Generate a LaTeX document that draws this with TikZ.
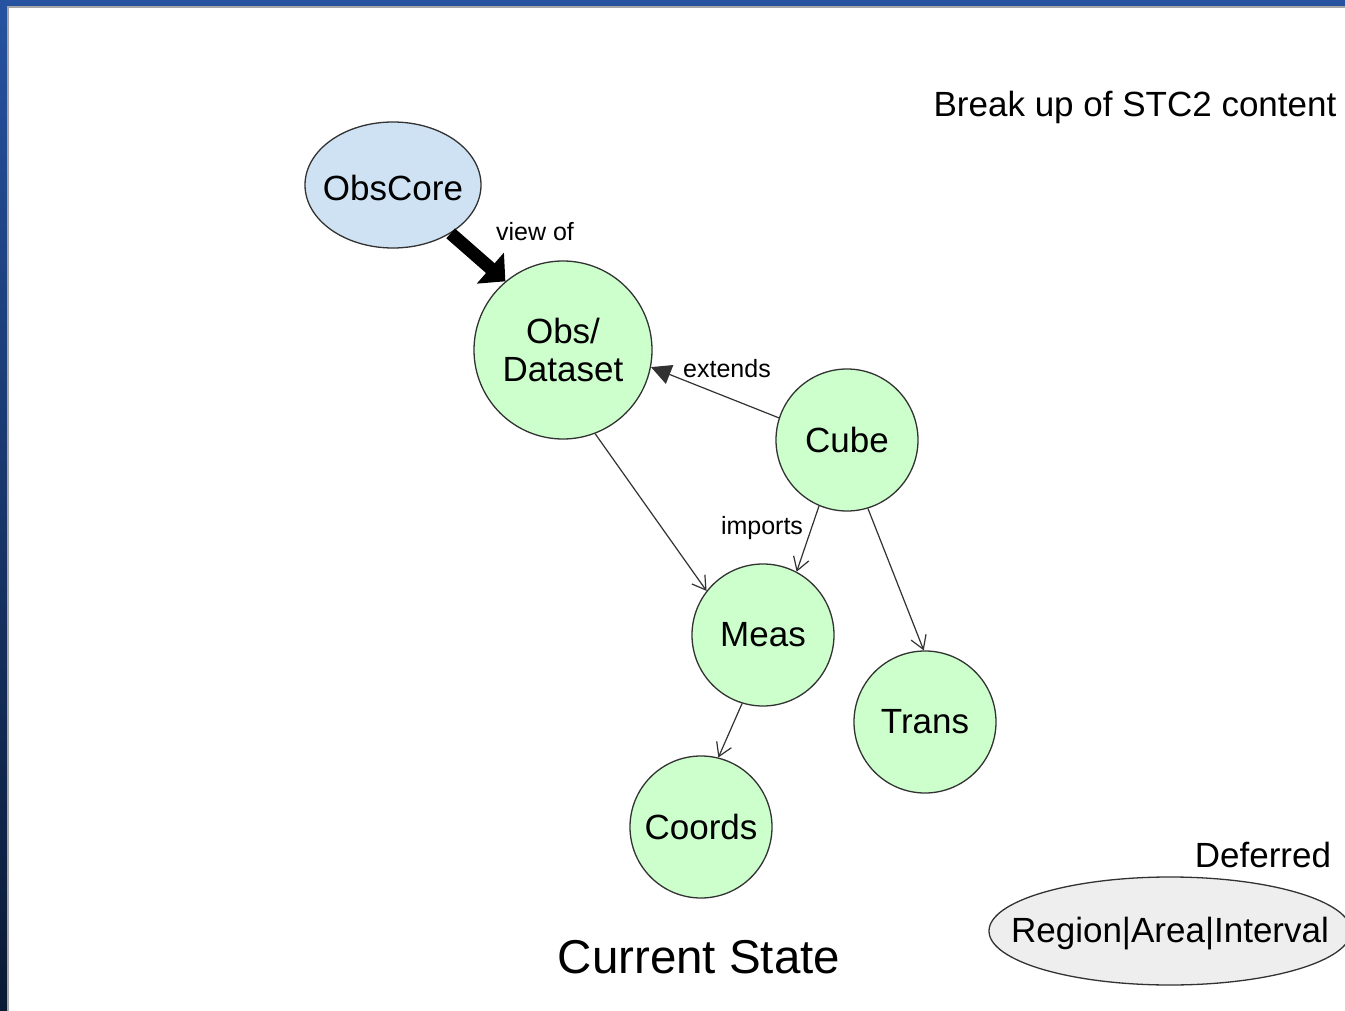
\documentclass[tikz,border=0pt]{standalone}
\usepackage{fontspec}
\setmainfont{Liberation Sans}
\usetikzlibrary{arrows.meta,shapes.geometric}
\definecolor{nodegreen}{RGB}{204,255,204}
\definecolor{nodeblue}{RGB}{207,226,243}
\definecolor{nodegray}{RGB}{238,238,238}
\definecolor{frametop}{RGB}{38,82,160}
\definecolor{framebot}{RGB}{10,26,52}
\definecolor{edgegray}{RGB}{50,50,50}
\tikzset{
  big/.style={font=\fontsize{35}{40}\selectfont},
  lab/.style={font=\fontsize{25}{28}\selectfont, inner sep=0pt},
  circ/.style={circle, draw=edgegray, line width=1.3pt, fill=nodegreen, minimum size=142pt, inner sep=0pt, align=center, big},
  ell/.style={ellipse, draw=edgegray, line width=1.3pt, inner sep=0pt, label={[big, inner sep=0pt, yshift=-3pt]center:#1}},
  thin/.style={draw=edgegray, line width=1.2pt, -{Straight Barb[length=13pt,width=16pt,line width=1.2pt]}},
  fat/.style={draw=black, line width=13pt, -{Triangle[length=20pt,width=40pt]}},
  ext/.style={draw=edgegray, line width=1.2pt, -{Triangle[length=20pt,width=20pt]}},
}
\begin{document}
\begin{tikzpicture}[x=1pt,y=-1pt]
\useasboundingbox (0,0) rectangle (1345,1011);
\fill[white] (0,0) rectangle (1345,1011);
\clip (0,0) rectangle (1345,1011);
% frame
\fill[frametop] (0,0) rectangle (1345,6);
\fill[gray!70] (7,6) rectangle (1345,8);
\shade[top color=frametop, bottom color=framebot] (0,0) rectangle (7,1011);
\fill[gray!70] (7,6) rectangle (9,1011);
% nodes
\node[ell=ObsCore, fill=nodeblue, minimum width=176pt, minimum height=126pt] (obscore) at (393,185) {};
\node[circ, minimum size=178pt] (obs) at (563,350) {Obs/\\[-2pt]Dataset};
\node[circ] (cube) at (847,440) {Cube};
\node[circ] (meas) at (763,635) {Meas};
\node[circ] (trans) at (925,722) {Trans};
\node[circ] (coords) at (701,827) {Coords};
\node[ell=Region|Area|Interval, fill=nodegray, minimum width=362pt, minimum height=108pt] (region) at (1170,931) {};
% texts
\node[big, inner sep=0pt] (title) at (1135,107) {Break up of STC2 content};
\node[big, inner sep=0pt] (deferred) at (1263,855) {Deferred};
\node[font=\fontsize{47.5}{52}\selectfont, inner sep=0pt] (current) at (699,957) {Current State};
% edges
\draw[fat] (obscore.-40) -- (obs.130);
\node[lab] (viewof) at (535,232) {view of};
\draw[ext] (cube.162) -- (obs.-11);
\node[lab] (extends) at (727,369) {extends};
\draw[thin] (obs.-69) -- (meas.142);
\draw[thin] (cube.-113) -- (meas.62);
\node[lab] (imports) at (762,528) {imports};
\draw[thin] (cube.-73) -- (trans.91);
\draw[thin] (meas.-107) -- (coords.76);
\end{tikzpicture}
\end{document}
